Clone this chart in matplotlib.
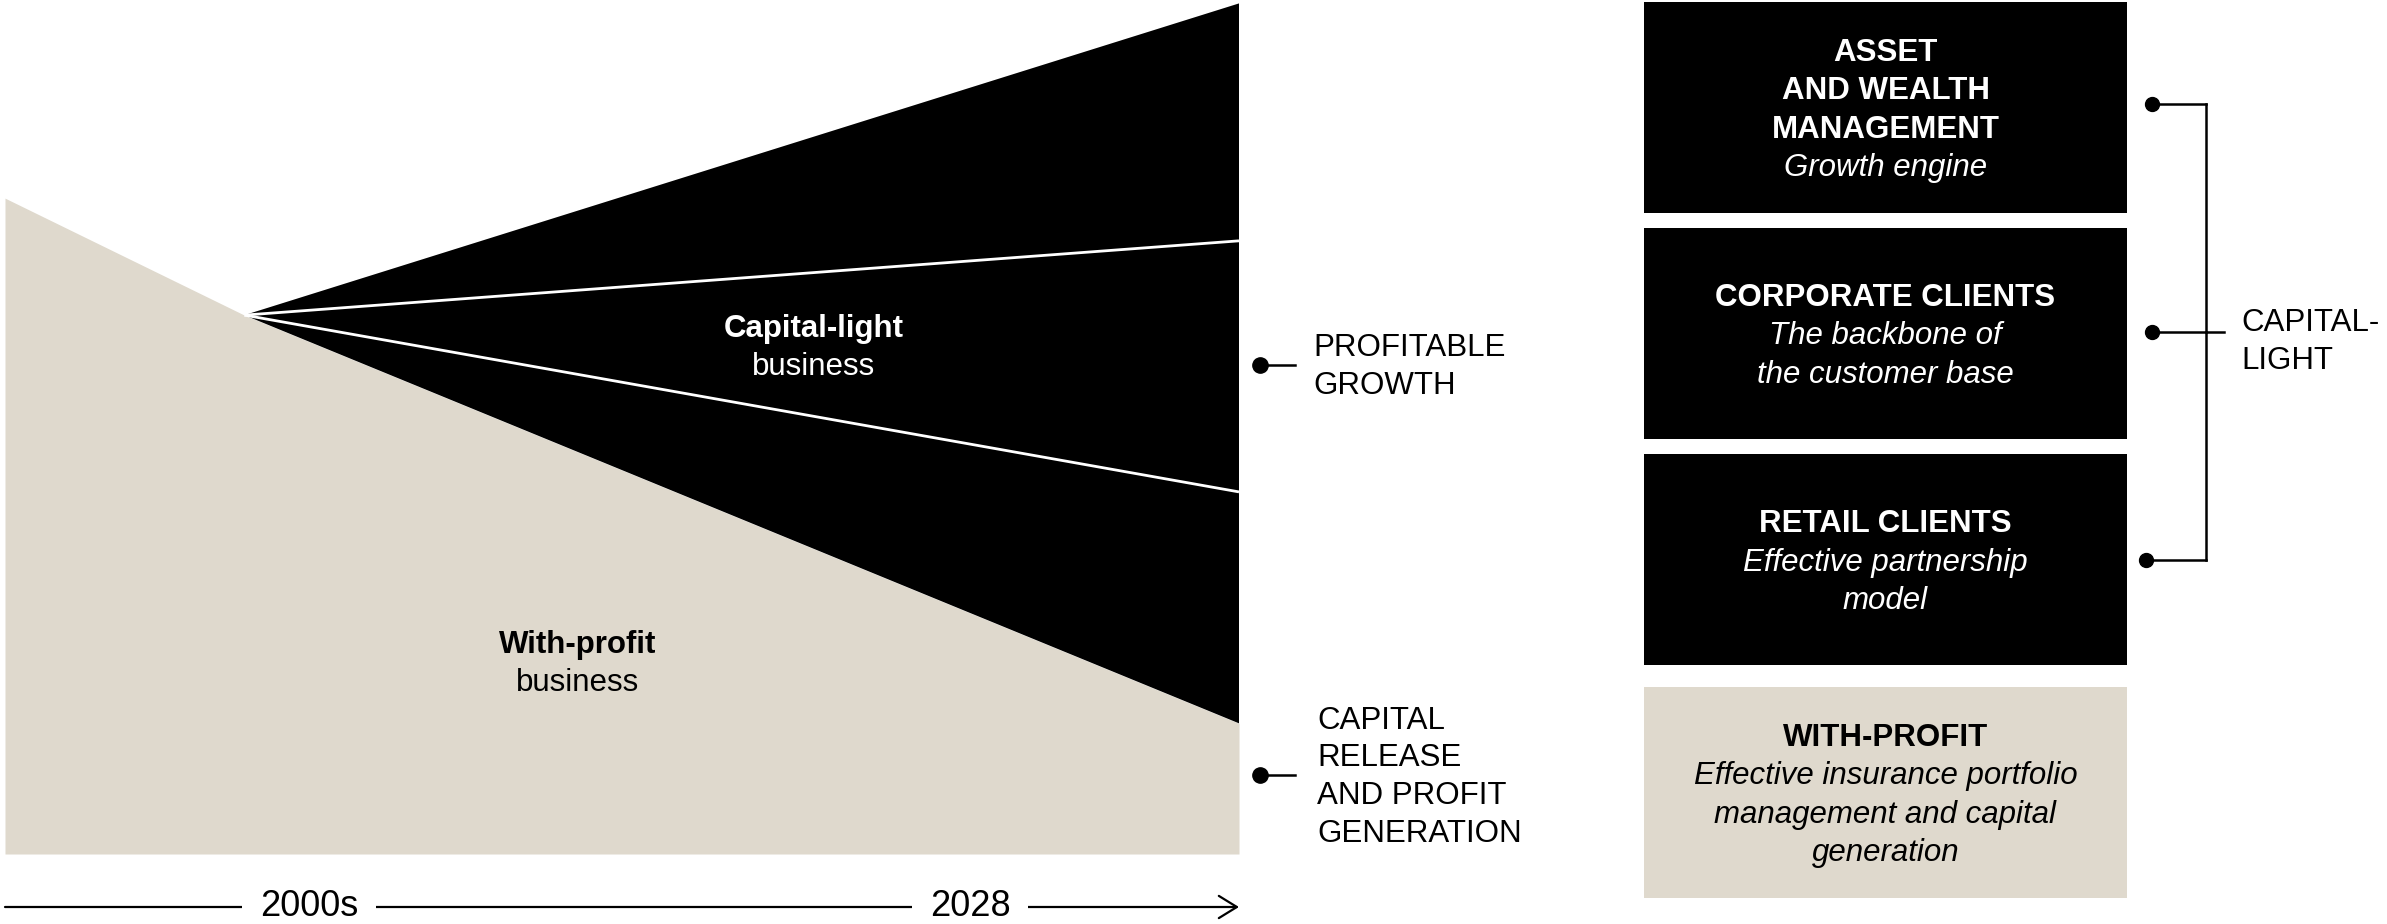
import matplotlib
matplotlib.use("Agg")
import matplotlib.pyplot as plt
from matplotlib.patches import Rectangle

plt.rcParams['font.family'] = ['Liberation Sans', 'DejaVu Sans']

BEIGE = '#dfd9cd'
W, H = 2387, 924

# wedge data (share units, 0..100) over normalised time 0..1
time_pts = [0.0, 0.194, 1.0]
with_profit_top = [76.8, 63.1, 15.3]
segment_bounds_end = [15.3, 42.4, 71.8, 99.6]   # capital-light split at 2028
time_labels = ['2000s', '2028']

side_labels = ['PROFITABLE\nGROWTH', 'CAPITAL\nRELEASE\nAND PROFIT\nGENERATION']

box_titles = ['ASSET\nAND WEALTH\nMANAGEMENT', 'CORPORATE CLIENTS', 'RETAIL CLIENTS', 'WITH-PROFIT']
box_subtitles = ['Growth engine',
                 'The backbone of\nthe customer base',
                 'Effective partnership\nmodel',
                 'Effective insurance portfolio\nmanagement and capital\ngeneration']
box_colors = ['black', 'black', 'black', BEIGE]
box_text_colors = ['white', 'white', 'white', 'black']

fig = plt.figure(figsize=(W / 100, H / 100), dpi=100)

# --- wedge chart
wx = fig.add_axes([5 / W, (H - 854) / H, 1234 / W, 854 / H])
wx.set_xlim(0, 1)
wx.set_ylim(0, 100)
wx.axis('off')

wx.fill_between(time_pts, 0, with_profit_top, color=BEIGE, lw=0)
apex_x, apex_y = time_pts[1], with_profit_top[1]
wx.fill([apex_x, 1, 1], [apex_y, segment_bounds_end[0], segment_bounds_end[-1]],
        color='black', lw=0)
for b in segment_bounds_end[1:-1]:
    wx.plot([apex_x, 1], [apex_y, b], color='white', lw=2, solid_capstyle='butt')

# --- overlay in pixel units
ax = fig.add_axes([0, 0, 1, 1])
ax.set_xlim(0, W)
ax.set_ylim(H, 0)
ax.axis('off')

FS = 22.5
ax.text(814, 337, 'Capital-light', color='white', fontsize=FS, fontweight='bold', ha='center', va='baseline')
ax.text(814, 375, 'business', color='white', fontsize=FS, ha='center', va='baseline')
ax.text(578, 653, 'With-profit', color='black', fontsize=FS, fontweight='bold', ha='center', va='baseline')
ax.text(578, 691, 'business', color='black', fontsize=FS, ha='center', va='baseline')

# time axis
ax.annotate('', xy=(1239, 907), xytext=(5, 907),
            arrowprops=dict(arrowstyle='->,head_length=1.3,head_width=0.8',
                            lw=1.6, color='black', mutation_scale=10,
                            shrinkA=0, shrinkB=0))
for lab, x in zip(time_labels, [309, 970]):
    ax.text(x, 907, lab, fontsize=26, ha='center', va='center', zorder=5,
            bbox=dict(boxstyle='square,pad=0.5', fc='white', ec='none'))

# side markers with labels
for lab, dot_y, tx, base0 in zip(side_labels, [365, 775], [1313, 1317], [356, 729]):
    ax.plot([1260, 1295], [dot_y, dot_y], color='black', lw=1.8)
    ax.plot(1260, dot_y, 'o', color='black', ms=11)
    for i, line in enumerate(lab.split('\n')):
        ax.text(tx, base0 + i * 37.5, line, fontsize=FS, ha='left', va='baseline')

# boxes
box_left, box_right = 1644, 2127
box_tops = [2, 228, 454, 687]
box_h = 211
cx = (box_left + box_right) / 2
for top, title, sub, fc, tc in zip(box_tops, box_titles, box_subtitles, box_colors, box_text_colors):
    ax.add_patch(Rectangle((box_left, top), box_right - box_left, box_h, fc=fc, ec='none'))
    c = top + box_h / 2
    lines = [(t, 'bold', 'normal') for t in title.split('\n')] + \
            [(s, 'normal', 'italic') for s in sub.split('\n')]
    n = len(lines)
    for i, (t, wgt, sty) in enumerate(lines):
        y = c + (i - (n - 1) / 2) * 38.5 + 11
        ax.text(cx, y, t, color=tc, fontsize=FS, fontweight=wgt, fontstyle=sty,
                ha='center', va='baseline')

# bracket for capital-light boxes
bx = 2206
dot_xs = [2152, 2152, 2146]
dot_ys = [104, 332, 560]
for dy, dx in zip(dot_ys, dot_xs):
    ax.plot([dx, bx], [dy, dy], color='black', lw=1.8)
    ax.plot(dx, dy, 'o', color='black', ms=10)
ax.plot([bx, bx], [dot_ys[0], dot_ys[2]], color='black', lw=1.8)
ax.plot([bx, 2224], [dot_ys[1], dot_ys[1]], color='black', lw=1.8)
ax.text(2241, 331, 'CAPITAL-', fontsize=FS, ha='left', va='baseline')
ax.text(2241, 369, 'LIGHT', fontsize=FS, ha='left', va='baseline')

fig.savefig('out.png', dpi=100)
